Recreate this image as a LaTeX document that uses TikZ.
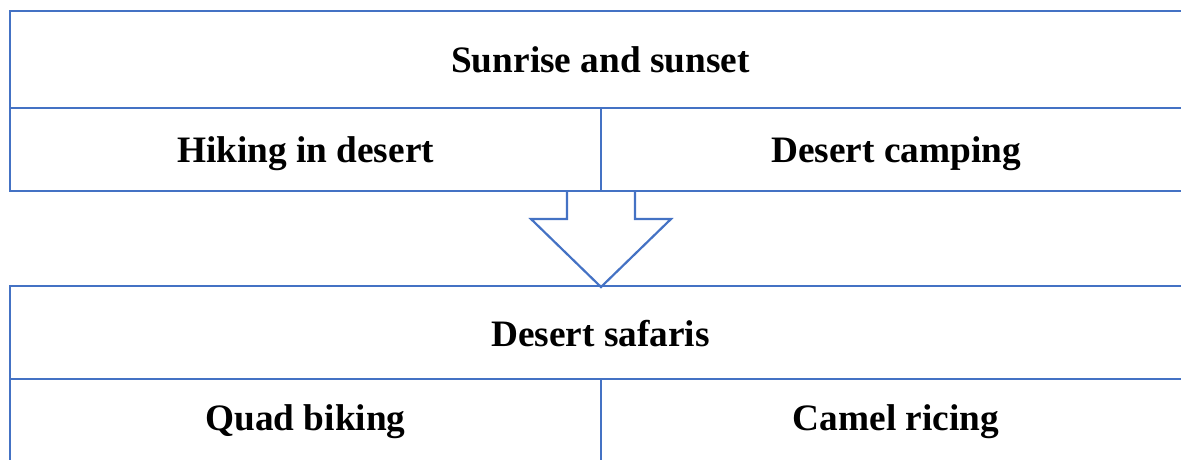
\documentclass[tikz,border=0pt]{standalone}
\usepackage{fontspec}
\setmainfont{Liberation Serif}
\definecolor{tblue}{HTML}{4472C4}
\begin{document}
\begin{tikzpicture}[x=1pt,y=-1pt,
  rule/.style={draw=tblue,line width=2.6pt},
  celltext/.style={font=\fontsize{37.3}{40}\selectfont\bfseries,text=black,inner sep=0pt,anchor=base}]
\useasboundingbox (0,0) rectangle (1181,459);
% top table
\draw[rule] (1195,11) -- (10,11) -- (10,191) -- (1195,191);
\draw[rule] (10,108) -- (1195,108);
\draw[rule] (601,108) -- (601,191);
% bottom table
\draw[rule] (1195,286) -- (10,286) -- (10,470);
\draw[rule] (10,379) -- (1195,379);
\draw[rule] (601,379) -- (601,470);
% block arrow
\draw[rule,line width=2.2pt,line join=miter] (567,191) -- (567,219) -- (531,219) -- (601,287) -- (671,219) -- (635,219) -- (635,191);
% texts
\node[celltext] (t1) at (600.5,72.5) {Sunrise and sunset};
\node[celltext] (t2) at (305.5,162) {Hiking in desert};
\node[celltext] (t3) at (896,162) {Desert camping};
\node[celltext] (t4) at (600.5,346) {Desert safaris};
\node[celltext] (t5) at (305.5,430) {Quad biking};
\node[celltext] (t6) at (896,430) {Camel ricing};
\end{tikzpicture}
\end{document}
